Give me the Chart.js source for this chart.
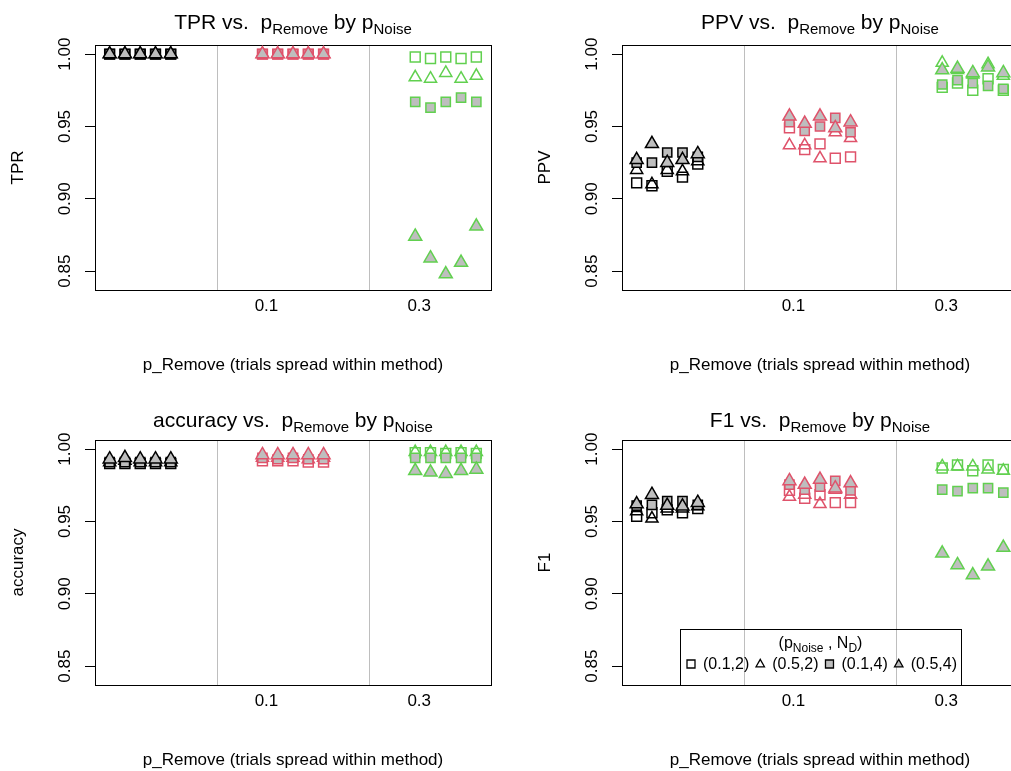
<!DOCTYPE html>
<html>
<head>
<meta charset="utf-8">
<script src="https://cdn.jsdelivr.net/npm/chart.js@4.4.0/dist/chart.umd.min.js"></script>
<style>
  html, body { margin: 0; padding: 0; background: #fff; overflow: hidden; }
  body { width: 1011px; height: 771px; position: relative; }
  .panel { position: absolute; width: 505px; height: 385px; }
</style>
</head>
<body>
<div class="panel" style="left:0;top:0"><canvas id="tprChart" width="505" height="385"></canvas></div>
<div class="panel" style="left:527px;top:0"><canvas id="ppvChart" width="505" height="385"></canvas></div>
<div class="panel" style="left:0;top:395px"><canvas id="accChart" width="505" height="385"></canvas></div>
<div class="panel" style="left:527px;top:395px"><canvas id="f1Chart" width="505" height="385"></canvas></div>
<script>
// categories (p_Remove per method group) and the spread of the 5 trials
const pRemove = ['', '0.1', '0.3'];
const trialOffsets = [0, 0.1, 0.2, 0.3, 0.4];
const yTicks = [0.85, 0.90, 0.95, 1.00];
const dividers = [1.7, 2.7];
const legendLabels = ['(0.1,2)', '(0.5,2)', '(0.1,4)', '(0.5,4)'];

// values: 15 per series = 3 groups x 5 trials
const tprOpenSq  = [1, 1, 1, 1, 1,  1, 1, 1, 1, 1,  0.998, 0.997, 0.998, 0.997, 0.998];
const tprOpenTri = [1, 1, 1, 1, 1,  1, 1, 1, 1, 1,  0.984, 0.983, 0.987, 0.983, 0.985];
const tprGreySq  = [1, 1, 1, 1, 1,  1, 1, 1, 1, 1,  0.967, 0.963, 0.967, 0.970, 0.967];
const tprGreyTri = [1, 1, 1, 1, 1,  1, 1, 1, 1, 1,  0.874, 0.859, 0.848, 0.856, 0.881];

const ppvOpenSq  = [0.911, 0.909, 0.919, 0.915, 0.924,  0.949, 0.934, 0.938, 0.928, 0.929,  0.977, 0.980, 0.975, 0.983, 0.975];
const ppvOpenTri = [0.920, 0.910, 0.920, 0.919, 0.926,  0.937, 0.937, 0.928, 0.946, 0.942,  0.994, 0.989, 0.986, 0.993, 0.985];
const ppvGreySq  = [0.925, 0.925, 0.932, 0.932, 0.929,  0.953, 0.947, 0.950, 0.956, 0.946,  0.979, 0.982, 0.980, 0.978, 0.976];
const ppvGreyTri = [0.927, 0.938, 0.925, 0.927, 0.931,  0.957, 0.952, 0.957, 0.949, 0.953,  0.989, 0.990, 0.987, 0.991, 0.987];

const accOpenSq  = [0.990, 0.990, 0.990, 0.990, 0.990,  0.992, 0.992, 0.992, 0.991, 0.991,  0.9975, 0.9975, 0.997, 0.9975, 0.997];
const accOpenTri = [0.991, 0.992, 0.991, 0.991, 0.991,  0.994, 0.994, 0.994, 0.993, 0.994,  0.998, 0.998, 0.998, 0.998, 0.998];
const accGreySq  = [0.991, 0.991, 0.991, 0.991, 0.991,  0.994, 0.993, 0.994, 0.993, 0.993,  0.994, 0.994, 0.994, 0.994, 0.994];
const accGreyTri = [0.993, 0.994, 0.993, 0.993, 0.993,  0.996, 0.996, 0.996, 0.996, 0.996,  0.985, 0.984, 0.983, 0.985, 0.986];

const f1OpenSq  = [0.9535, 0.956, 0.958, 0.956, 0.959,  0.9715, 0.966, 0.9685, 0.963, 0.963,  0.987, 0.989, 0.985, 0.989, 0.986];
const f1OpenTri = [0.957, 0.952, 0.959, 0.959, 0.9605,  0.967, 0.9685, 0.962, 0.972, 0.9685,  0.988, 0.988, 0.988, 0.986, 0.985];
const f1GreySq  = [0.961, 0.9615, 0.964, 0.964, 0.9615,  0.9755, 0.972, 0.974, 0.978, 0.9715,  0.972, 0.971, 0.973, 0.973, 0.970];
const f1GreyTri = [0.962, 0.9685, 0.961, 0.9605, 0.963,  0.978, 0.9755, 0.979, 0.973, 0.9765,  0.928, 0.920, 0.913, 0.919, 0.932];

const groupColors = ['#000000', '#DF536B', '#61D04F'];
const greyFill = '#BEBEBE';
const FONT = '"Liberation Sans", Arial, Helvetica, sans-serif';

Chart.defaults.font.family = FONT;
Chart.defaults.color = '#000';

// marker look for the 4 (p_Noise, N_D) combos
const markers = [
  { style: 'rect', radius: 7, fill: false },
  { style: 'triangle', radius: 7, fill: false },
  { style: 'rect', radius: 6.5, fill: true },
  { style: 'triangle', radius: 7.5, fill: true }
];

// text with subscripts: parts = [[text, isSub], ...]
function drawRich(ctx, parts, cx, baseline, size, subSize, subShift) {
  let total = 0;
  const widths = parts.map(p => {
    ctx.font = (p[1] ? subSize : size) + 'px ' + FONT;
    const w = ctx.measureText(p[0]).width;
    total += w;
    return w;
  });
  let x = cx - total / 2;
  ctx.textAlign = 'left';
  ctx.textBaseline = 'alphabetic';
  ctx.fillStyle = '#000';
  parts.forEach((p, i) => {
    ctx.font = (p[1] ? subSize : size) + 'px ' + FONT;
    ctx.fillText(p[0], x, baseline + (p[1] ? subShift : 0));
    x += widths[i];
  });
}

function drawMarker(ctx, i, x, y, r) {
  ctx.beginPath();
  if (markers[i].style === 'rect') {
    ctx.rect(x - r, y - r, 2 * r, 2 * r);
  } else {
    ctx.moveTo(x, y - r * 1.15);
    ctx.lineTo(x + r * 1.05, y + r * 0.7);
    ctx.lineTo(x - r * 1.05, y + r * 0.7);
    ctx.closePath();
  }
  if (markers[i].fill) {
    ctx.fillStyle = greyFill;
    ctx.fill();
  }
  ctx.stroke();
}

function drawLegend(chart) {
  const ctx = chart.ctx, a = chart.chartArea;
  const w = 281, h = 56;
  const left = Math.round((a.left + a.right) / 2 - w / 2);
  const top = Math.round(a.bottom - h);
  ctx.save();
  ctx.strokeStyle = '#000';
  ctx.lineWidth = 1;
  ctx.strokeRect(left + 0.5, top + 0.5, w, h);
  drawRich(ctx, [['(p', 0], ['Noise', 1], [' , N', 0], ['D', 1], [')', 0]], left + w / 2, top + 19, 16, 12, 4);
  let x = left + 11;
  const y = top + 35;
  ctx.lineWidth = 1.3;
  legendLabels.forEach((lab, i) => {
    drawMarker(ctx, i, x, y, 4);
    ctx.font = '16px ' + FONT;
    ctx.fillStyle = '#000';
    ctx.fillText(lab, x + 12, y + 5);
    x += 23 + ctx.measureText(lab).width;
  });
  ctx.restore();
}

const framePlugin = {
  id: 'frame',
  beforeDatasetsDraw(chart) {
    const ctx = chart.ctx, a = chart.chartArea, xs = chart.scales.x;
    ctx.save();
    ctx.lineWidth = 1;
    ctx.strokeStyle = '#BEBEBE';
    dividers.forEach(d => {
      const px = Math.round(xs.getPixelForValue(d)) + 0.5;
      ctx.beginPath();
      ctx.moveTo(px, a.top);
      ctx.lineTo(px, a.bottom);
      ctx.stroke();
    });
    ctx.strokeStyle = '#000';
    ctx.strokeRect(Math.round(a.left) + 0.5, Math.round(a.top) + 0.5, Math.round(a.width), Math.round(a.height));
    ctx.restore();
  },
  afterDraw(chart, args, opts) {
    const ctx = chart.ctx, a = chart.chartArea;
    ctx.save();
    drawRich(ctx, opts.title, (a.left + a.right) / 2, a.top - opts.titleGap, 21, 15, 5);
    ctx.restore();
    if (opts.legend) drawLegend(chart);
  }
};

function makePanel(id, metric, yTitle, series, titleGap, legend) {
  const datasets = series.map((vals, i) => ({
    label: legendLabels[i],
    data: vals.map((v, j) => ({ x: Math.floor(j / 5) + 1 + trialOffsets[j % 5], y: v })),
    pointStyle: markers[i].style,
    pointRadius: markers[i].radius,
    pointHoverRadius: markers[i].radius,
    pointBorderWidth: 1.5,
    pointBackgroundColor: markers[i].fill ? greyFill : 'rgba(0,0,0,0)',
    pointBorderColor: vals.map((v, j) => groupColors[Math.floor(j / 5)]),
    showLine: false,
    order: 3 - i
  }));

  return new Chart(document.getElementById(id), {
    type: 'scatter',
    data: { datasets: datasets },
    plugins: [framePlugin],
    options: {
      responsive: false,
      animation: false,
      devicePixelRatio: 1,
      layout: { padding: { top: 45, right: 14, left: 0, bottom: 0 } },
      plugins: {
        legend: { display: false },
        tooltip: { enabled: false },
        frame: {
          title: [[metric + ' vs.  p', 0], ['Remove', 1], [' by p', 0], ['Noise', 1]],
          titleGap: titleGap,
          legend: legend
        }
      },
      scales: {
        x: {
          type: 'linear',
          min: 0.904,
          max: 3.496,
          afterBuildTicks: s => { s.ticks = [2, 3].map(v => ({ value: v })); },
          afterFit: s => { s.height = 95; },
          ticks: {
            callback: v => pRemove[Math.round(v) - 1],
            font: { size: 17 },
            padding: 6,
            labelOffset: 4,
            maxRotation: 0,
            autoSkip: false
          },
          grid: { display: false, drawTicks: false },
          border: { display: false },
          title: {
            display: true,
            text: 'p_Remove (trials spread within method)',
            font: { size: 17 },
            padding: { top: 0, bottom: 9 }
          }
        },
        y: {
          min: 0.837,
          max: 1.0063,
          afterBuildTicks: s => { s.ticks = yTicks.map(v => ({ value: v })); },
          afterFit: s => { s.width = 95; },
          ticks: {
            callback: v => v.toFixed(2),
            font: { size: 17 },
            minRotation: 90,
            maxRotation: 90,
            crossAlign: 'center',
            padding: 3
          },
          grid: { drawOnChartArea: false, drawTicks: true, tickLength: 10, color: '#000' },
          border: { display: true, color: '#000' },
          title: {
            display: true,
            text: yTitle,
            font: { size: 17 },
            padding: { top: 8 }
          }
        }
      }
    }
  });
}

makePanel('tprChart', 'TPR', 'TPR', [tprOpenSq, tprOpenTri, tprGreySq, tprGreyTri], 16, false);
makePanel('ppvChart', 'PPV', 'PPV', [ppvOpenSq, ppvOpenTri, ppvGreySq, ppvGreyTri], 16, false);
makePanel('accChart', 'accuracy', 'accuracy', [accOpenSq, accOpenTri, accGreySq, accGreyTri], 13, false);
makePanel('f1Chart', 'F1', 'F1', [f1OpenSq, f1OpenTri, f1GreySq, f1GreyTri], 13, true);
</script>
</body>
</html>
